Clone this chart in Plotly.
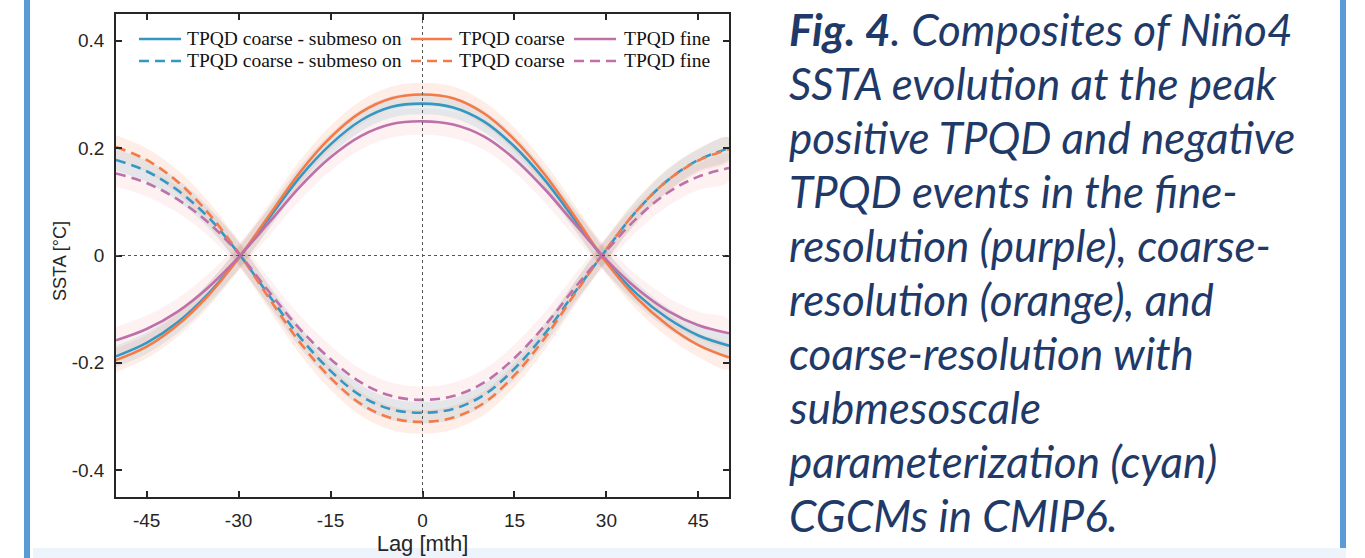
import plotly.graph_objects as go

# ---------------- data ----------------
lags = [-50, -45, -40, -35, -30, -25, -20, -15, -10, -5, 0, 5, 10, 15, 20, 25, 30, 35, 40, 45, 50]

# positive TPQD composites (solid)
sub_pos = [-0.188, -0.163, -0.125, -0.072, -0.005, 0.070, 0.146, 0.207, 0.252, 0.277, 0.283,
           0.276, 0.250, 0.203, 0.140, 0.064, -0.012, -0.072, -0.117, -0.149, -0.168]
coarse_pos = [-0.195, -0.170, -0.130, -0.075, -0.005, 0.075, 0.155, 0.220, 0.267, 0.293, 0.300,
              0.293, 0.265, 0.216, 0.150, 0.070, -0.013, -0.080, -0.130, -0.167, -0.190]
fine_pos = [-0.158, -0.137, -0.105, -0.060, -0.003, 0.062, 0.128, 0.183, 0.223, 0.245, 0.250,
            0.244, 0.222, 0.180, 0.123, 0.057, -0.008, -0.062, -0.103, -0.130, -0.145]

# negative TPQD composites (dashed)
sub_neg = [0.178, 0.157, 0.122, 0.072, 0.004, -0.075, -0.152, -0.215, -0.262, -0.287, -0.293,
           -0.286, -0.260, -0.211, -0.145, -0.066, 0.011, 0.084, 0.140, 0.178, 0.200]
coarse_neg = [0.202, 0.178, 0.138, 0.080, 0.005, -0.080, -0.162, -0.228, -0.277, -0.303, -0.310,
              -0.302, -0.275, -0.223, -0.153, -0.069, 0.012, 0.084, 0.140, 0.177, 0.198]
fine_neg = [0.153, 0.135, 0.105, 0.062, 0.004, -0.068, -0.137, -0.193, -0.237, -0.262, -0.269,
            -0.262, -0.237, -0.191, -0.130, -0.058, 0.009, 0.070, 0.117, 0.147, 0.163]

# half-width of the shaded spread around each composite
spread_sub = 0.020
spread_coarse = 0.022
spread_fine = 0.025

series_names = ["TPQD coarse - submeso on", "TPQD coarse", "TPQD fine"]

x_tickvals = [-45, -30, -15, 0, 15, 30, 45]
x_ticktext = ["-45", "-30", "-15", "0", "15", "30", "45"]
y_tickvals = [-0.4, -0.2, 0, 0.2, 0.4]
y_ticktext = ["-0.4", "-0.2", "0", "0.2", "0.4"]

caption_lines = [
    "<b>Fig. 4</b>. Composites of Niño4",
    "SSTA evolution at the peak",
    "positive TPQD and negative",
    "TPQD events in the fine-",
    "resolution (purple), coarse-",
    "resolution (orange), and",
    "coarse-resolution with",
    "submesoscale",
    "parameterization (cyan)",
    "CGCMs in CMIP6.",
]

# ---------------- styling ----------------
W, H = 1365, 558
BLUE = "#3598c4"
ORANGE = "#f47a48"
PURPLE = "#bf70a8"
BAND = {
    BLUE: "rgba(53,152,196,0.13)",
    ORANGE: "rgba(244,122,72,0.13)",
    PURPLE: "rgba(236,140,130,0.11)",
}
INK = "#262626"
NAVY = "#1f3a68"
DASH = "10px,6px"
SANS = "Liberation Sans, Arial, sans-serif"


def px(x):
    return x / W


def py(y):
    return 1 - y / H


fig = go.Figure()

series = [
    (sub_pos, spread_sub, BLUE, "solid", series_names[0]),
    (coarse_pos, spread_coarse, ORANGE, "solid", series_names[1]),
    (fine_pos, spread_fine, PURPLE, "solid", series_names[2]),
    (sub_neg, spread_sub, BLUE, DASH, series_names[0]),
    (coarse_neg, spread_coarse, ORANGE, DASH, series_names[1]),
    (fine_neg, spread_fine, PURPLE, DASH, series_names[2]),
]

# shaded spreads
for vals, sp, col, dash, name in series:
    upper = [v + sp for v in vals]
    lower = [v - sp for v in vals]
    fig.add_trace(go.Scatter(
        x=lags + lags[::-1], y=upper + lower[::-1],
        fill="toself", fillcolor=BAND[col], line=dict(width=0, shape="spline"),
        mode="lines", hoverinfo="skip", showlegend=False,
    ))

# composite lines
for vals, sp, col, dash, name in series:
    fig.add_trace(go.Scatter(
        x=lags, y=vals, mode="lines", name=name, showlegend=False,
        line=dict(color=col, width=2.6, dash=dash, shape="spline", smoothing=1.0),
    ))

# axes
axis_common = dict(
    showline=True, linecolor=INK, linewidth=1.5, mirror="ticks",
    ticks="inside", ticklen=6, tickwidth=1.5, tickcolor=INK,
    showgrid=False, zeroline=False,
    tickfont=dict(family=SANS, size=19, color=INK),
)
fig.update_xaxes(
    range=[-50, 50], tickvals=x_tickvals, ticktext=x_ticktext,
    domain=[px(116), px(729)],
    title=dict(text="Lag [mth]", standoff=4, font=dict(family=SANS, size=22, color=INK)),
    ticklabelstandoff=5,
    **axis_common,
)
fig.update_yaxes(
    range=[-0.45, 0.45], tickvals=y_tickvals, ticktext=y_ticktext,
    domain=[py(497), py(14)],
    ticklabelstandoff=6,
    **axis_common,
)

# y-axis title placed as rotated text
fig.add_annotation(
    xref="paper", yref="paper", x=px(60), y=py(261),
    xanchor="center", yanchor="middle", showarrow=False, textangle=-90,
    text="SSTA [°C]", font=dict(family=SANS, size=18, color=INK),
)

# dotted reference lines through zero lag / zero anomaly
fig.add_shape(type="line", xref="paper", yref="y", x0=px(116), x1=px(729), y0=0, y1=0,
              line=dict(color="#555555", width=1, dash="dot"), layer="above")
fig.add_shape(type="line", xref="x", yref="paper", x0=0, x1=0, y0=py(497), y1=py(14),
              line=dict(color="#555555", width=1, dash="dot"), layer="above")

# manual two-row legend (solid row, dashed row)
leg_cols = [(139, 181, 185), (411, 452, 457), (574, 616, 622)]
leg_rows = [(39, "solid"), (61, DASH)]
colors = [BLUE, ORANGE, PURPLE]
for (ry, dash) in leg_rows:
    for (x0, x1, tx), col, name in zip(leg_cols, colors, series_names):
        fig.add_shape(type="line", xref="paper", yref="paper",
                      x0=px(x0), x1=px(x1), y0=py(ry), y1=py(ry),
                      line=dict(color=col, width=2.6, dash=dash), layer="above")
        fig.add_annotation(
            xref="paper", yref="paper", x=px(tx), y=py(ry),
            xanchor="left", yanchor="middle", showarrow=False, text=name,
            font=dict(family="Liberation Serif, Times New Roman, serif", size=19.5, color="#111111"),
        )

# page decoration: side bars and bottom strip
fig.add_shape(type="rect", xref="paper", yref="paper", x0=px(24), x1=px(30), y0=0, y1=1,
              fillcolor="#5b9bd5", line=dict(width=0), layer="below")
fig.add_shape(type="rect", xref="paper", yref="paper", x0=px(1340), x1=px(1346), y0=py(548), y1=1,
              fillcolor="#5b9bd5", line=dict(width=0), layer="below")
fig.add_shape(type="rect", xref="paper", yref="paper", x0=px(33), x1=px(1346), y0=0, y1=py(548),
              fillcolor="#eef4fb", line=dict(width=0), layer="below")

# caption text
for i, line in enumerate(caption_lines):
    fig.add_annotation(
        xref="paper", yref="paper", x=px(787), y=py(29 + 54.0 * i),
        xanchor="left", yanchor="middle", showarrow=False, text=line,
        font=dict(family="Lato, Open Sans, sans-serif", size=44, color=NAVY, style="italic"),
    )

fig.update_layout(
    width=W, height=H, autosize=False,
    margin=dict(l=0, r=0, t=0, b=0),
    paper_bgcolor="white", plot_bgcolor="white",
    showlegend=False,
)

fig.write_html(
    "out.html",
    config={"displayModeBar": False},
    post_script="document.body.style.margin='0';document.body.style.padding='0';",
)
